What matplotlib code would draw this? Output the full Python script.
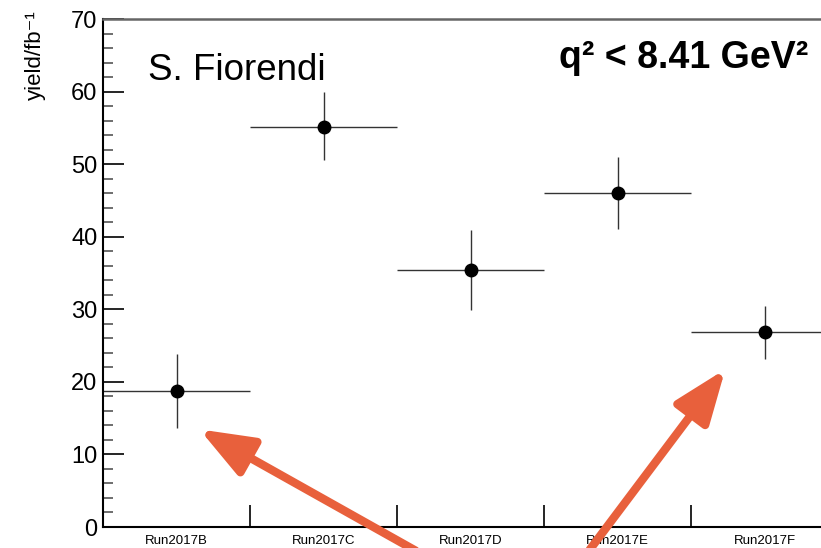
import numpy as np
import matplotlib.pyplot as plt
from matplotlib.ticker import MultipleLocator

plt.rcParams['font.family'] = ['Liberation Sans', 'DejaVu Sans']

# данные по периодам набора
runs = ['Run2017B', 'Run2017C', 'Run2017D', 'Run2017E', 'Run2017F']
yields = [18.7, 55.1, 35.4, 46.0, 26.9]
err_up = [5.1, 4.8, 5.5, 5.0, 3.6]
err_down = [5.1, 4.5, 5.5, 4.9, 3.8]

fig = plt.figure(figsize=(8.21, 5.48), dpi=100)
# ось выходит за правый край, как на исходной картинке
ax = fig.add_axes([103/821, 21/548, 735/821, 508/548])

x = np.arange(len(runs))
ax.errorbar(x, yields, yerr=[err_down, err_up], xerr=0.5,
            fmt='o', color='black', markersize=9,
            ecolor='#333333', elinewidth=1.0, capsize=0)

ax.set_xlim(-0.5, len(runs) - 0.5)
ax.set_ylim(0, 70)

# деления внутрь, в стиле ROOT
ax.yaxis.set_major_locator(MultipleLocator(10))
ax.yaxis.set_minor_locator(MultipleLocator(2))
ax.tick_params(axis='y', which='major', direction='in', length=15, width=1.2,
               labelsize=17, pad=4)
ax.tick_params(axis='y', which='minor', direction='in', length=7.5, width=1.2,
               color='#555555')
ax.set_xticks(np.arange(len(runs) + 1) - 0.5)
ax.set_xticklabels([])
ax.set_xticks(x, minor=True)
ax.set_xticklabels(runs, minor=True, fontsize=9.5)
ax.tick_params(axis='x', which='major', direction='in', length=16, width=1.2)
ax.tick_params(axis='x', which='minor', length=0, pad=6)

for s in ['left', 'bottom']:
    ax.spines[s].set_linewidth(1.5)
ax.spines['top'].set_linewidth(1.8)
ax.spines['top'].set_color('#666666')
ax.spines['right'].set_visible(False)

fig.text(35/821, 1 - 10/548, 'yield/fb⁻¹', rotation=90, fontsize=16,
         ha='center', va='top')
fig.text(148/821, 1 - 70/548, 'S. Fiorendi', fontsize=26.5, ha='left', va='center')
fig.text(808/821, 1 - 58/548, 'q² < 8.41 GeV²', fontsize=27,
         fontweight='bold', ha='right', va='center')

# оранжевые стрелки на точки B и F
arrow_col = '#E8603C'
style = '-|>,head_length=1.3,head_width=0.5'
ax.annotate('', xy=(197/821, 1 - 428/548), xycoords='figure fraction',
            xytext=(418/821, 1 - 552/548), textcoords='figure fraction',
            arrowprops=dict(arrowstyle=style, mutation_scale=25,
                            color=arrow_col, lw=6), annotation_clip=False)
ax.annotate('', xy=(727/821, 1 - 367/548), xycoords='figure fraction',
            xytext=(588/821, 1 - 552/548), textcoords='figure fraction',
            arrowprops=dict(arrowstyle=style, mutation_scale=25,
                            color=arrow_col, lw=6), annotation_clip=False)

plt.savefig('out.png', dpi=100)
